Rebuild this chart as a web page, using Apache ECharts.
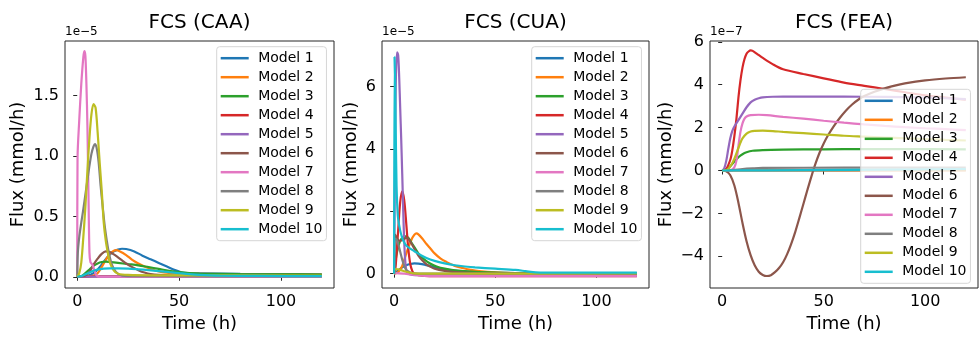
<!DOCTYPE html>
<html><head><meta charset="utf-8">
<script src="https://cdn.jsdelivr.net/npm/echarts@6/dist/echarts.min.js"></script>
<style>html,body{margin:0;padding:0;background:#fff}#c{width:979px;height:338px}</style>
</head><body><div id="c"></div>
<script>
// ---------------- data ----------------
const MODELS = ['Model 1','Model 2','Model 3','Model 4','Model 5','Model 6','Model 7','Model 8','Model 9','Model 10'];
const COLORS = ['#1f77b4','#ff7f0e','#2ca02c','#d62728','#9467bd','#8c564b','#e377c2','#7f7f7f','#bcbd22','#17becf'];
const TITLES = ['FCS (CAA)','FCS (CUA)','FCS (FEA)'];
const EXPONENTS = ['1e\u22125','1e\u22125','1e\u22127'];
const X_TICKS = [0, 50, 100];
const Y_TICKS_CAA = [0, 0.5, 1.0, 1.5];
const Y_TICKS_CUA = [0, 2, 4, 6];
const Y_TICKS_FEA = [-4, -2, 0, 2, 4, 6];
const X_LABEL = 'Time (h)';
const Y_LABEL = 'Flux (mmol/h)';

// CAA panel, values in units of 1e-5 mmol/h, [time h, flux]
const caa_m1 = [[0,0],[3,0.002],[5,0.006],[8,0.03],[10,0.06],[12,0.1],[14,0.145],[16,0.185],[18,0.21],[20,0.225],[22,0.232],[24,0.23],[28,0.21],[32,0.175],[36,0.145],[40,0.115],[44,0.085],[48,0.055],[51,0.037],[54,0.03],[60,0.028],[80,0.024],[100,0.022],[120,0.02]];
const caa_m2 = [[0,0],[5,0.002],[8,0.01],[10,0.03],[12,0.08],[14,0.14],[16,0.19],[18,0.215],[19,0.22],[21,0.21],[24,0.18],[27,0.14],[30,0.11],[33,0.085],[36,0.065],[40,0.045],[45,0.032],[50,0.027],[60,0.024],[80,0.02],[100,0.018],[120,0.017]];
const caa_m3 = [[0,0],[2,0.005],[4,0.03],[6,0.06],[8,0.09],[10,0.11],[12,0.122],[14,0.125],[16,0.122],[20,0.115],[25,0.105],[30,0.095],[35,0.08],[40,0.065],[45,0.05],[50,0.038],[55,0.03],[60,0.026],[80,0.022],[100,0.02],[120,0.019]];
const caa_m4 = [[0,0],[10,0.004],[40,0.004],[120,0.003]];
const caa_m5 = [[0,0],[10,0.001],[120,0.001]];
const caa_m6 = [[0,0],[4,0.01],[6,0.04],[8,0.1],[10,0.15],[12,0.19],[14,0.21],[16,0.205],[18,0.185],[20,0.16],[22,0.135],[24,0.11],[27,0.08],[30,0.055],[33,0.035],[36,0.022],[40,0.015],[50,0.01],[80,0.008],[120,0.006]];
const caa_m7 = [[0,0],[0.15,0.98],[1,1.3],[2,1.6],[3,1.82],[3.5,1.87],[4,1.83],[4.5,1.6],[5,1.25],[5.5,0.7],[6,0.2],[6.5,0.12],[7.5,0.1],[8.5,0.05],[9.5,0.01],[11,0],[120,0]];
const caa_m8 = [[0,0],[0.3,0.2],[1,0.33],[2,0.45],[3,0.56],[4,0.68],[5,0.8],[6,0.92],[7,1.02],[8,1.08],[8.7,1.1],[9.5,1.07],[10.5,0.95],[11.5,0.75],[12.5,0.58],[13.5,0.42],[14.5,0.3],[15.5,0.2],[17,0.1],[19,0.04],[22,0.01],[30,0.005],[120,0.003]];
const caa_m9 = [[0,0],[1,0.03],[2,0.12],[3,0.33],[4,0.58],[5,0.88],[6,1.15],[7,1.35],[8,1.43],[9,1.4],[10,1.2],[11,0.95],[12,0.72],[13,0.45],[14,0.3],[15,0.2],[16,0.12],[18,0.05],[20,0.025],[25,0.015],[40,0.012],[120,0.01]];
const caa_m10 = [[0,0],[2,0.005],[4,0.02],[6,0.035],[8,0.05],[10,0.06],[13,0.068],[16,0.07],[20,0.07],[25,0.068],[30,0.062],[35,0.055],[40,0.047],[45,0.038],[50,0.03],[55,0.022],[60,0.016],[70,0.01],[90,0.007],[120,0.005]];

// CUA panel, values in units of 1e-5 mmol/h
const cua_m1 = [[0,0],[1,0.05],[2,0.1],[4,0.2],[6,0.27],[8,0.31],[10,0.33],[12,0.32],[15,0.29],[18,0.24],[21,0.19],[25,0.14],[30,0.1],[35,0.07],[40,0.05],[50,0.03],[60,0.02],[80,0.015],[120,0.01]];
const cua_m2 = [[0,0],[2,0.05],[4,0.25],[6,0.65],[8,1.0],[9,1.15],[10,1.25],[11,1.29],[12,1.26],[14,1.12],[16,0.95],[18,0.8],[20,0.65],[23,0.48],[26,0.37],[30,0.25],[34,0.18],[38,0.12],[42,0.08],[50,0.04],[60,0.02],[80,0.01],[120,0.005]];
const cua_m3 = [[0,0],[0.3,0.15],[1,0.55],[2,0.85],[3,1.05],[4,1.15],[5,1.2],[6,1.2],[7,1.15],[8,1.05],[10,0.85],[12,0.65],[15,0.45],[18,0.32],[21,0.23],[25,0.16],[30,0.11],[40,0.06],[50,0.035],[60,0.02],[80,0.012],[120,0.008]];
const cua_m4 = [[0,0],[0.5,0.1],[1,0.45],[2,1.4],[3,2.3],[4,2.64],[5,2.35],[6,1.6],[7,0.8],[8,0.3],[9,0.08],[10,0],[12,-0.05],[15,-0.07],[20,-0.08],[120,-0.08]];
const cua_m5 = [[0,0],[0.3,2.5],[0.7,5.5],[1,6.6],[1.5,7.1],[2,7.0],[2.5,6.3],[3,5.3],[3.5,4.3],[4,3.2],[4.5,2.0],[5,1.0],[5.5,0.4],[6,0.12],[7,0],[9,-0.04],[12,-0.05],[120,-0.05]];
const cua_m6 = [[0,0],[0.3,1.25],[1,1.2],[2,1.08],[3,1.05],[4,1.08],[5,1.12],[6,1.15],[7,1.12],[8,1.03],[9,0.92],[10,0.8],[12,0.58],[14,0.42],[16,0.3],[18,0.22],[20,0.16],[25,0.09],[30,0.05],[40,0.02],[60,0.01],[120,0]];
const cua_m7 = [[0,0],[1,0.02],[5,0],[10,-0.04],[15,-0.07],[20,-0.08],[120,-0.08]];
const cua_m8 = [[0,0],[0.3,1.1],[1,1.1],[2,0.95],[3,0.7],[4,0.45],[5,0.25],[6,0.12],[8,0.04],[10,0.01],[20,0],[120,0]];
const cua_m9 = [[0,0],[0.2,0.15],[2,0.14],[4,0.1],[6,0.06],[8,0.03],[10,0.01],[15,0],[120,0.01]];
const cua_m10 = [[0,0],[0.2,6.95],[0.5,6.0],[0.8,4.5],[1.2,2.8],[1.6,2.1],[2,1.75],[3,1.38],[4,1.15],[5,1.0],[6,0.9],[8,0.8],[10,0.72],[13,0.6],[16,0.5],[20,0.41],[25,0.33],[30,0.27],[35,0.23],[40,0.2],[50,0.16],[60,0.12],[65,0.08],[70,0.04],[75,0.03],[120,0.03]];

// FEA panel, values in units of 1e-7 mmol/h
const fea_m1 = [[0,0],[60,0.01],[120,0.02]];
const fea_m2 = [[0,0],[60,0.005],[120,0.01]];
const fea_m3 = [[0,0],[2,0.05],[4,0.2],[6,0.42],[8,0.62],[10,0.76],[12,0.85],[15,0.92],[20,0.95],[30,0.97],[50,0.99],[70,1.0],[90,1.0],[120,0.99]];
const fea_m4 = [[0,0],[2,0.08],[4,0.5],[5,0.95],[6,1.6],[7,2.4],[8,3.4],[9,4.2],[10,4.8],[11,5.2],[12,5.45],[13,5.55],[14,5.6],[15,5.58],[17,5.45],[20,5.25],[25,4.95],[30,4.72],[40,4.5],[50,4.3],[60,4.1],[70,3.95],[80,3.8],[90,3.65],[100,3.5],[110,3.4],[120,3.3]];
const fea_m5 = [[0,0],[1,0.1],[2,0.45],[3,1.0],[4,1.5],[5,1.85],[6,2.05],[8,2.35],[10,2.65],[12,2.95],[14,3.18],[16,3.3],[18,3.37],[20,3.41],[25,3.44],[30,3.45],[50,3.45],[70,3.44],[90,3.42],[100,3.4],[110,3.37],[120,3.33]];
const fea_m6 = [[0,0],[2,-0.04],[4,-0.22],[6,-0.7],[8,-1.5],[10,-2.45],[12,-3.3],[14,-3.95],[16,-4.42],[18,-4.72],[20,-4.87],[22,-4.92],[24,-4.88],[26,-4.74],[28,-4.55],[30,-4.28],[32,-3.9],[34,-3.42],[36,-2.86],[38,-2.22],[40,-1.56],[42,-0.9],[44,-0.26],[46,0.33],[48,0.84],[50,1.26],[52,1.62],[55,2.07],[58,2.46],[61,2.8],[64,3.08],[67,3.3],[70,3.47],[75,3.67],[80,3.83],[85,3.96],[90,4.06],[100,4.2],[110,4.29],[120,4.35]];
const fea_m7 = [[0,0],[4,0.02],[5,0.05],[6,0.15],[7,0.45],[8,1.15],[9,1.8],[10,2.2],[11,2.42],[12,2.52],[14,2.58],[18,2.6],[22,2.58],[30,2.5],[40,2.42],[50,2.32],[60,2.23],[70,2.15],[80,2.08],[90,2.02],[100,1.97],[110,1.93],[120,1.88]];
const fea_m8 = [[0,0],[5,0.02],[10,0.07],[15,0.1],[20,0.12],[60,0.13],[120,0.13]];
const fea_m9 = [[0,0],[2,0.02],[3,0.08],[4,0.2],[5,0.35],[6,0.55],[7,0.8],[8,1.05],[9,1.3],[10,1.5],[12,1.72],[14,1.82],[16,1.85],[20,1.86],[25,1.84],[30,1.8],[40,1.74],[50,1.68],[60,1.62],[70,1.58],[80,1.54],[90,1.5],[100,1.47],[110,1.43],[120,1.4]];
const fea_m10 = [[0,0],[20,0.01],[60,0.03],[120,0.06]];

const PANEL_DATA = [
  [caa_m1,caa_m2,caa_m3,caa_m4,caa_m5,caa_m6,caa_m7,caa_m8,caa_m9,caa_m10],
  [cua_m1,cua_m2,cua_m3,cua_m4,cua_m5,cua_m6,cua_m7,cua_m8,cua_m9,cua_m10],
  [fea_m1,fea_m2,fea_m3,fea_m4,fea_m5,fea_m6,fea_m7,fea_m8,fea_m9,fea_m10]
];
const Y_TICKS = [Y_TICKS_CAA, Y_TICKS_CUA, Y_TICKS_FEA];

// ---------------- layout / style ----------------
const FONT = 'DejaVu Sans';
const GRIDS = [
  {left:65, top:41, width:269, height:250},
  {left:382, top:41, width:267, height:250},
  {left:710, top:41, width:268, height:250}
];
const Y_RANGES = [[-0.093,1.953],[-0.46,7.46],[-5.48,6.04]];
const Y_NAME_GAPS = [38, 22, 35];
const LEGEND_POS = [{left:216.7, top:46.7},{left:531.7, top:46.7},{left:860.7, top:89.3}];

function fmtY(panel, v) {
  if (panel === 0) return v.toFixed(1);
  return v < 0 ? '\u2212' + Math.abs(v) : String(v);
}

const grid = GRIDS.map(g => Object.assign({show:true, borderColor:'#262626', borderWidth:1, containLabel:false}, g));
const xAxis = GRIDS.map((g,i) => ({
  type:'value', gridIndex:i, min:-6, max:126,
  name: X_LABEL, nameLocation:'middle', nameGap:27,
  nameTextStyle:{fontSize:18, fontFamily:FONT, color:'#000'},
  axisLine:{show:false},
  splitLine:{show:false},
  axisTick:{show:true, inside:false, length:4, customValues:X_TICKS, lineStyle:{color:'#262626'}},
  axisLabel:{customValues:X_TICKS, fontSize:16, fontFamily:FONT, color:'#000', margin:6}
}));
const yAxis = GRIDS.map((g,i) => ({
  type:'value', gridIndex:i, min:Y_RANGES[i][0], max:Y_RANGES[i][1],
  name: Y_LABEL, nameLocation:'middle', nameGap:Y_NAME_GAPS[i], nameRotate:90,
  nameTextStyle:{fontSize:18, fontFamily:FONT, color:'#000'},
  axisLine:{show:false},
  splitLine:{show:false},
  axisTick:{show:true, inside:false, length:4, customValues:Y_TICKS[i], lineStyle:{color:'#262626'}},
  axisLabel:{customValues:Y_TICKS[i], fontSize:16, fontFamily:FONT, color:'#000', margin:6,
    formatter: v => fmtY(i, v)}
}));

const series = [];
PANEL_DATA.forEach((panel, p) => {
  panel.forEach((d, k) => {
    series.push({
      type:'line', name:MODELS[k], xAxisIndex:p, yAxisIndex:p,
      data:d, symbol:'none', showSymbol:false,
      smooth:0.3, clip:true,
      lineStyle:{width:2.2, color:COLORS[k]}, itemStyle:{color:COLORS[k]},
      emphasis:{disabled:true}, z:2
    });
  });
});

const legend = LEGEND_POS.map(pos => ({
  data: MODELS, orient:'vertical', left:pos.left, top:pos.top,
  padding:[2,4,2,4], itemGap:0, itemWidth:28, itemHeight:2.5, icon:'rect',
  selectedMode:false,
  formatter: name => ' ' + name,
  backgroundColor:'rgba(255,255,255,0.8)', borderColor:'#d6d6d6', borderWidth:1, borderRadius:3,
  textStyle:{fontSize:14, lineHeight:19, fontFamily:FONT, color:'#000'}
}));

const graphic = [];
GRIDS.forEach((g,i) => {
  graphic.push({type:'text', x:g.left + g.width/2, y:22.5,
    style:{text:TITLES[i], font:'20px "' + FONT + '"', fill:'#000', textAlign:'center', textVerticalAlign:'middle'}});
  graphic.push({type:'text', x:g.left, y:32,
    style:{text:EXPONENTS[i], font:'12px "' + FONT + '"', fill:'#000', textAlign:'left', textVerticalAlign:'middle'}});
});

const chart = echarts.init(document.getElementById('c'), null, {renderer:'canvas'});
chart.setOption({
  animation:false, backgroundColor:'#fff', color:COLORS,
  grid, xAxis, yAxis, series, legend, graphic
});
</script></body></html>
